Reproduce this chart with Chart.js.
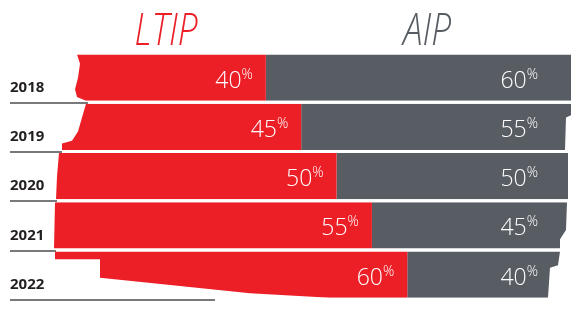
<!DOCTYPE html>
<html>
<head>
<meta charset="utf-8">
<script src="https://cdn.jsdelivr.net/npm/chart.js@4.4.1/dist/chart.umd.min.js"></script>
<style>
    html, body { margin: 0; padding: 0; background: #fff; }
    #wrap { width: 571px; height: 313px; }
</style>
</head>
<body>
<div id="wrap"><canvas id="pay-mix"></canvas></div>
<script>
"use strict";

var years = ['2018', '2019', '2020', '2021', '2022'];
var ltipShare = [40, 45, 50, 55, 60];
var aipShare = [60, 55, 50, 45, 40];
var seriesNames = ['LTIP', 'AIP'];

var RED = '#ec1f27';
var GREY = '#585c63';
var FONT = "'Open Sans', 'Lato', sans-serif";

// ragged brush outline per row, [x px, fraction of bar thickness], top to bottom
var brushLeft = [
    [[77, 0], [80, 0.2], [78, 0.5], [75, 0.75], [77, 0.92], [86, 1]],
    [[86, 0], [82, 0.3], [78, 0.6], [72, 0.8], [62, 0.86], [62, 1]],
    [[59, 0], [57, 0.5], [56, 1]],
    [[55, 0], [54, 1]],
    [[55, 0], [55, 0.17], [100, 0.17], [100, 0.57], [250, 0.9], [330, 1]]
];
var brushRight = [
    [[571, 0], [571, 1]],
    [[571, 0], [571, 0.25], [566, 0.3], [565, 1]],
    [[568, 0], [568, 1]],
    [[567, 0], [566, 0.6], [560, 0.8], [560, 1]],
    [[560, 0], [558, 0.3], [550, 0.35], [548, 1]]
];
var underlineEnd = [88, 62, 57, 56, 215];


// Percent label with small raised % sign
function drawPct(ctx, value, right, mid) {
    ctx.font = '300 14px ' + FONT;
    var pw = ctx.measureText('%').width;
    ctx.fillStyle = '#ffffff';
    ctx.textAlign = 'right';
    ctx.textBaseline = 'alphabetic';
    ctx.fillText('%', right, mid + 1);
    ctx.font = '300 23px ' + FONT;
    ctx.fillText(String(value), right - pw, mid + 10);
}

function drawHeader(ctx, text, cx, color) {
    ctx.save();
    ctx.translate(cx, 45);
    ctx.scale(0.8, 1);
    ctx.font = 'italic 300 44px ' + FONT;
    ctx.fillStyle = color;
    ctx.textAlign = 'center';
    ctx.textBaseline = 'alphabetic';
    ctx.fillText(text, 0, 0);
    ctx.restore();
}


var brushPlugin = {
    id: 'brush',
    beforeDatasetsDraw: function (chart) {
        var ctx = chart.ctx;
        var bars = chart.getDatasetMeta(0).data;

        // underlines below the year labels
        ctx.save();
        ctx.strokeStyle = '#4d4d4f';
        ctx.lineWidth = 1.5;
        bars.forEach(function (bar, i) {
            var y = Math.round(bar.y + bar.height / 2 + 2);
            ctx.beginPath();
            ctx.moveTo(10, y);
            ctx.lineTo(underlineEnd[i], y);
            ctx.stroke();
        });
        ctx.restore();

        // clip bars to the brush shape
        ctx.save();
        ctx.beginPath();
        bars.forEach(function (bar, i) {
            var top = bar.y - bar.height / 2;
            var pts = brushLeft[i].concat(brushRight[i].slice().reverse());
            pts.forEach(function (p, k) {
                var y = top + p[1] * bar.height;
                if (k === 0) {
                    ctx.moveTo(p[0], y);
                } else {
                    ctx.lineTo(p[0], y);
                }
            });
            ctx.closePath();
        });
        ctx.clip();
    },
    afterDatasetsDraw: function (chart) {
        var ctx = chart.ctx;
        ctx.restore();

        var ltipBars = chart.getDatasetMeta(0).data;
        var right = chart.chartArea.right - 33;
        ctx.save();
        ltipBars.forEach(function (bar, i) {
            drawPct(ctx, ltipShare[i], bar.x - 13, bar.y);
            drawPct(ctx, aipShare[i], right, bar.y);
        });
        ctx.restore();
    },
    afterDraw: function (chart) {
        drawHeader(chart.ctx, seriesNames[0], 166, RED);
        drawHeader(chart.ctx, seriesNames[1], 427, GREY);
    }
};


new Chart(document.getElementById('pay-mix'), {
    type: 'bar',
    data: {
        labels: years,
        datasets: [{
            label: seriesNames[0],
            data: ltipShare,
            backgroundColor: RED,
            barPercentage: 0.94,
            categoryPercentage: 1
        }, {
            label: seriesNames[1],
            data: aipShare,
            backgroundColor: GREY,
            barPercentage: 0.94,
            categoryPercentage: 1
        }]
    },
    options: {
        indexAxis: 'y',
        responsive: true,
        maintainAspectRatio: false,
        animation: false,
        layout: {
            padding: { top: 53, bottom: 13.75, left: 10, right: 0 }
        },
        plugins: {
            legend: { display: false },
            tooltip: { enabled: false }
        },
        scales: {
            x: {
                stacked: true,
                min: 9.48,
                max: 83.15,
                display: false
            },
            y: {
                stacked: true,
                grid: { display: false },
                border: { display: false },
                ticks: {
                    crossAlign: 'far',
                    labelOffset: 10,
                    padding: 0,
                    color: '#231f20',
                    font: { family: FONT, size: 15, weight: 'bold' }
                },
                afterFit: function (scale) {
                    scale.width = 40;
                }
            }
        }
    },
    plugins: [brushPlugin]
});
</script>
</body>
</html>
